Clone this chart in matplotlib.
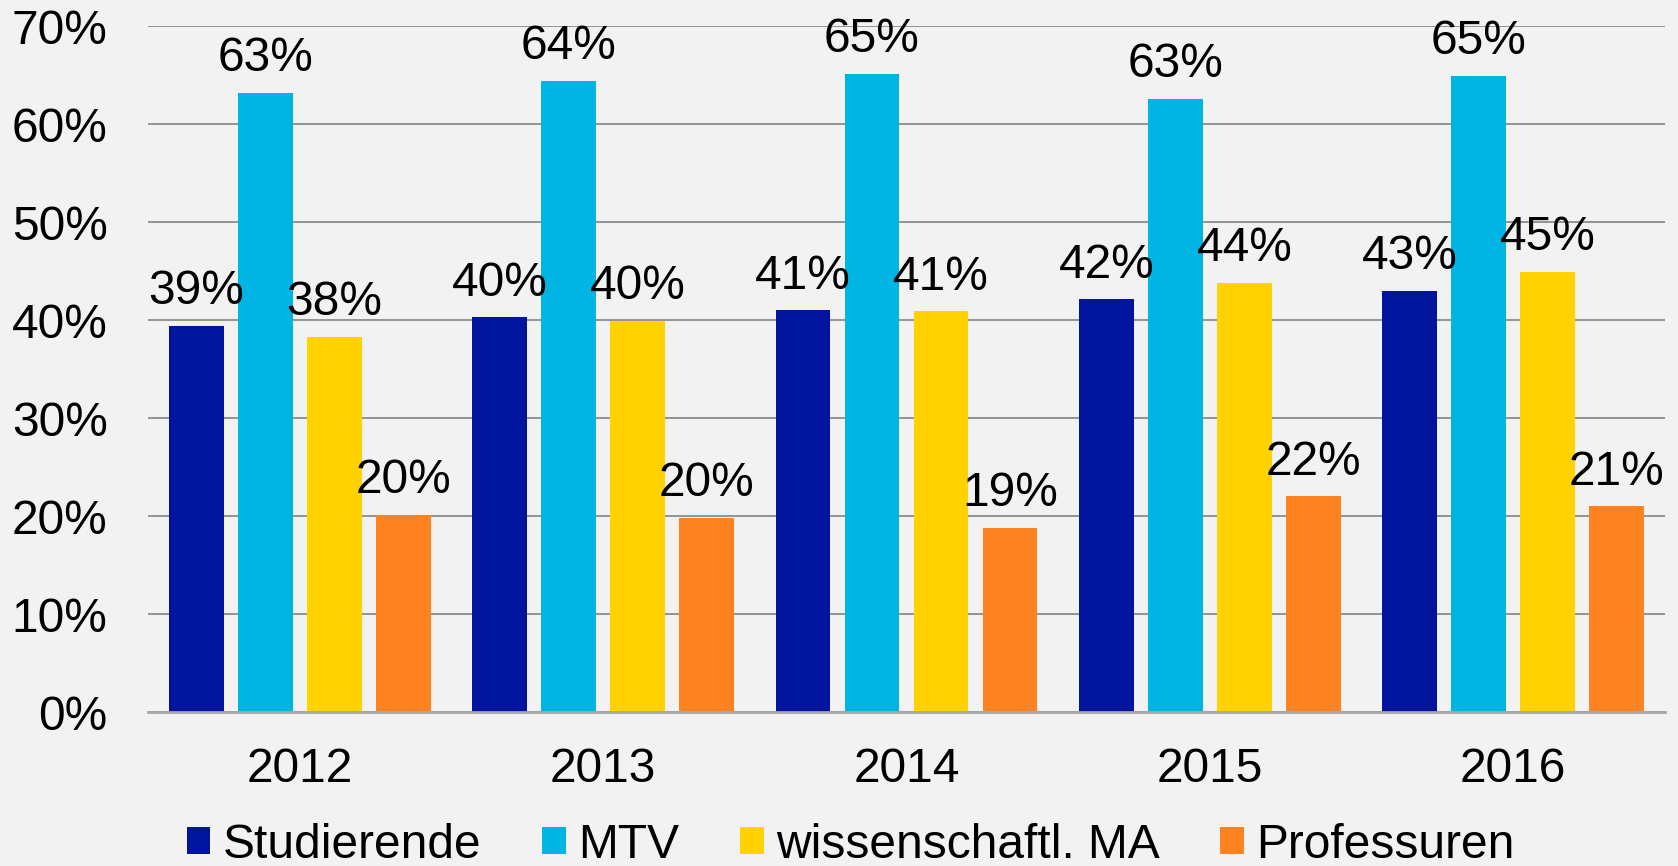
import matplotlib
matplotlib.use("Agg")
import matplotlib.pyplot as plt
import numpy as np
from matplotlib.patches import Patch

years = ["2012", "2013", "2014", "2015", "2016"]
series_names = ["Studierende", "MTV", "wissenschaftl. MA", "Professuren"]
studierende = [39.4, 40.3, 41.0, 42.1, 43.0]
mtv = [63.2, 64.4, 65.1, 62.6, 64.9]
wiss_ma = [38.3, 39.9, 40.9, 43.8, 44.9]
professuren = [20.1, 19.8, 18.8, 22.0, 21.0]
colors = ["#00149E", "#00B4E4", "#FFD200", "#FF8220"]
y_ticks = [0, 10, 20, 30, 40, 50, 60, 70]

plt.rcParams['font.family'] = ['Liberation Sans', 'DejaVu Sans']
bg = "#F2F2F2"
fig = plt.figure(figsize=(16.78, 8.66), dpi=100, facecolor=bg)
ax = fig.add_axes([148/1678, (866-712)/866, (1665-148)/1678, (712-26)/866])
ax.set_facecolor(bg)

data = [studierende, mtv, wiss_ma, professuren]
x = np.arange(len(years))
bw = 0.181
step = 0.2274
fs = 34.5
for i, (vals, col) in enumerate(zip(data, colors)):
    pos = x + (i - 1.5) * step
    bars = ax.bar(pos, vals, width=bw, color=col, zorder=3)
    for xp, v in zip(pos, vals):
        ax.annotate(f"{round(v):d}%", (xp, v), xytext=(0, 15.5), textcoords="offset points",
                    ha="center", va="baseline", fontsize=fs, color="black", zorder=4)

ax.set_xlim(-0.5, len(years) - 0.5)
ax.set_ylim(0, 70)
ax.set_yticks(y_ticks)
ax.set_yticklabels([f"{t}%" for t in y_ticks])
ax.set_xticks(x)
ax.set_xticklabels(years)
ax.tick_params(axis="y", length=0, pad=29, labelsize=fs)
ax.tick_params(axis="x", length=0, pad=25, labelsize=fs)
ax.yaxis.grid(True, color="#8C8C8C", linewidth=1.3, zorder=0)
ax.set_axisbelow(True)
for s in ["top", "right", "left"]:
    ax.spines[s].set_visible(False)
ax.spines["bottom"].set_color("#A6A6A6")
ax.spines["bottom"].set_linewidth(2)
ax.spines["bottom"].set_zorder(5)

handles = [Patch(facecolor=c, edgecolor="none") for c in colors]
leg = fig.legend(handles, series_names, loc="center", bbox_to_anchor=(0.507, (866-845)/866),
                 ncol=4, frameon=False, fontsize=fs, handlelength=0.5, handleheight=0.5,
                 handletextpad=0.26, columnspacing=1.26, borderaxespad=0, borderpad=0)

fig.savefig("out.png", dpi=100, facecolor=bg)
